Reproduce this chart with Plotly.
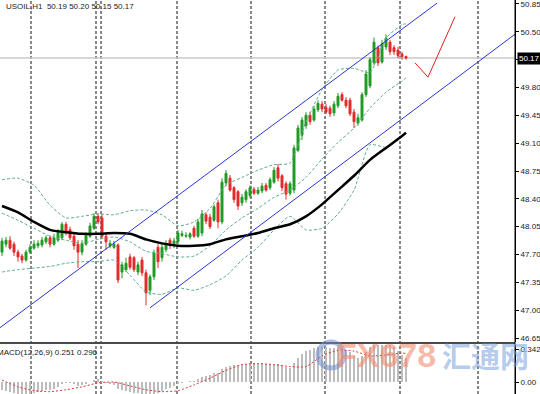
import plotly.graph_objects as go

# ---------------- data ----------------
bars = list(range(102))
opens = [47.73, 47.83, 47.88, 47.83, 47.73, 47.68, 47.63, 47.73, 47.78, 47.81,
         47.82, 47.86, 47.91, 47.83, 47.88, 47.91, 48.08, 48.01, 47.93, 47.83,
         47.73, 47.83, 47.93, 48.03, 48.18, 48.16, 47.93, 47.81, 47.79, 47.82,
         47.48, 47.51, 47.67, 47.66, 47.48, 47.63, 47.47, 47.25, 47.42, 47.79,
         47.66, 47.76, 47.88, 47.81, 47.86, 47.94, 47.93, 47.92, 48.03, 47.93,
         47.97, 48.20, 48.17, 48.13, 48.35, 48.11, 48.60, 48.66, 48.54, 48.49,
         48.35, 48.39, 48.44, 48.52, 48.47, 48.50, 48.57, 48.54, 48.61, 48.79,
         48.69, 48.59, 48.47, 48.51, 49.01, 49.20, 49.32, 49.45, 49.39, 49.52,
         49.59, 49.55, 49.54, 49.48, 49.57, 49.71, 49.64, 49.64, 49.49, 49.35,
         49.39, 49.71, 49.82, 50.11, 50.30, 50.12, 50.31, 50.37, 50.30, 50.27,
         50.22, 50.19]
highs = [47.91, 47.92, 47.93, 47.86, 47.76, 47.71, 47.76, 47.83, 47.88, 47.88,
         47.92, 47.94, 47.94, 47.96, 48.02, 48.11, 48.11, 48.05, 47.97, 47.88,
         47.88, 47.98, 48.10, 48.22, 48.22, 48.21, 47.96, 47.88, 47.87, 47.84,
         47.61, 47.66, 47.71, 47.68, 47.61, 47.67, 47.51, 47.45, 47.76, 47.83,
         47.83, 47.88, 47.91, 47.91, 48.01, 48.00, 47.98, 47.98, 48.06, 48.15,
         48.26, 48.23, 48.21, 48.33, 48.39, 48.66, 48.76, 48.70, 48.56, 48.51,
         48.46, 48.52, 48.57, 48.55, 48.55, 48.60, 48.60, 48.67, 48.80, 48.84,
         48.71, 48.62, 48.62, 49.08, 49.33, 49.43, 49.49, 49.49, 49.57, 49.64,
         49.63, 49.59, 49.57, 49.63, 49.73, 49.74, 49.68, 49.67, 49.53, 49.47,
         49.74, 50.02, 50.18, 50.43, 50.33, 50.40, 50.47, 50.40, 50.33, 50.31,
         50.25, 50.20]
lows = [47.68, 47.79, 47.76, 47.68, 47.61, 47.59, 47.61, 47.71, 47.76, 47.78,
        47.79, 47.83, 47.79, 47.81, 47.86, 47.88, 47.94, 47.88, 47.76, 47.53,
        47.69, 47.81, 47.91, 48.01, 48.08, 47.91, 47.76, 47.78, 47.77, 47.34,
        47.40, 47.48, 47.51, 47.48, 47.44, 47.43, 47.06, 47.19, 47.38, 47.53,
        47.61, 47.73, 47.77, 47.78, 47.83, 47.92, 47.91, 47.89, 47.91, 47.91,
        47.93, 48.08, 48.02, 48.11, 48.03, 48.08, 48.56, 48.49, 48.35, 48.26,
        48.31, 48.35, 48.41, 48.45, 48.45, 48.47, 48.49, 48.51, 48.59, 48.62,
        48.50, 48.39, 48.44, 48.47, 48.99, 49.14, 49.28, 49.33, 49.37, 49.49,
        49.49, 49.47, 49.43, 49.44, 49.54, 49.62, 49.54, 49.44, 49.29, 49.32,
        49.37, 49.68, 49.79, 50.08, 50.07, 50.10, 50.27, 50.21, 50.21, 50.17,
        50.15, 50.15]
closes = [47.87, 47.88, 47.78, 47.73, 47.67, 47.63, 47.73, 47.79, 47.83, 47.84,
          47.88, 47.91, 47.83, 47.91, 47.98, 48.08, 47.98, 47.91, 47.81, 47.73,
          47.84, 47.94, 48.06, 48.18, 48.11, 47.93, 47.86, 47.84, 47.83, 47.38,
          47.57, 47.59, 47.54, 47.51, 47.57, 47.47, 47.22, 47.42, 47.72, 47.61,
          47.79, 47.83, 47.81, 47.87, 47.97, 47.96, 47.94, 47.96, 47.93, 48.11,
          48.21, 48.12, 48.05, 48.30, 48.11, 48.61, 48.72, 48.51, 48.39, 48.31,
          48.42, 48.49, 48.54, 48.47, 48.51, 48.56, 48.51, 48.64, 48.76, 48.66,
          48.54, 48.46, 48.59, 49.04, 49.29, 49.39, 49.45, 49.37, 49.53, 49.60,
          49.53, 49.49, 49.47, 49.59, 49.69, 49.64, 49.57, 49.47, 49.37, 49.42,
          49.71, 49.97, 50.15, 50.37, 50.11, 50.35, 50.42, 50.25, 50.25, 50.20,
          50.19, 50.17]

band_bars = [0, 4, 8, 12, 16, 20, 24, 28, 32, 36, 40, 44, 48, 52, 56, 60, 64,
             68, 72, 76, 80, 84, 88, 92, 96, 100, 101]
bb_upper = [48.64, 48.66, 48.57, 48.32, 48.16, 48.18, 48.21, 48.20, 48.25, 48.26,
            48.20, 48.06, 48.11, 48.28, 48.57, 48.67, 48.76, 48.83, 48.85, 49.37,
            49.77, 50.02, 50.04, 49.99, 50.42, 50.59, 50.60]
bb_middle = [48.22, 48.13, 48.03, 47.93, 47.88, 47.84, 47.89, 47.92, 47.86, 47.74,
             47.71, 47.67, 47.68, 47.81, 48.01, 48.16, 48.28, 48.42, 48.51, 48.67,
             48.90, 49.11, 49.29, 49.54, 49.74, 49.88, 49.92]
bb_lower = [47.48, 47.51, 47.53, 47.55, 47.59, 47.61, 47.61, 47.63, 47.44, 47.23,
            47.20, 47.28, 47.25, 47.32, 47.43, 47.63, 47.79, 48.01, 48.18, 48.01,
            48.03, 48.21, 48.51, 49.08, 49.05, 49.18, 49.23]
ma_slow = [48.31, 48.23, 48.11, 48.01, 47.98, 47.96, 47.96, 47.97, 47.96, 47.89,
           47.84, 47.81, 47.81, 47.83, 47.89, 47.93, 47.97, 48.03, 48.08, 48.18,
           48.33, 48.51, 48.69, 48.89, 49.04, 49.19, 49.23]

macd_main = [-0.08, -0.09, -0.10, -0.11, -0.12, -0.13, -0.13, -0.12,
             -0.11, -0.10, -0.09, -0.08, -0.08, -0.07, -0.05, -0.02, -0.01,
             -0.01, -0.02, -0.04, -0.03, -0.02, 0.00,
             0.02, 0.03, 0.01, -0.01,
             -0.02, -0.03, -0.07, -0.08, -0.09, -0.10, -0.11, -0.11, -0.12,
             -0.15, -0.15, -0.12, -0.11, -0.09,
             -0.07, -0.06, -0.04, -0.02, -0.01, 0.00, 0.01, 0.01,
             0.03, 0.05, 0.06, 0.07, 0.09, 0.09, 0.13, 0.16,
             0.17, 0.18, 0.18, 0.19, 0.19, 0.20, 0.20, 0.20,
             0.20, 0.19, 0.19, 0.19, 0.19, 0.18, 0.16, 0.15,
             0.20, 0.25, 0.29, 0.32, 0.33, 0.35, 0.36, 0.36,
             0.36, 0.35, 0.35, 0.36, 0.35, 0.33, 0.31, 0.27,
             0.25, 0.27, 0.31, 0.36, 0.40, 0.40, 0.41, 0.41,
             0.39, 0.36, 0.32, 0.28, 0.251]
macd_signal = [0.02, -0.05, -0.09, -0.10, -0.08, -0.05, -0.01, 0.00, -0.04, -0.08,
               -0.10, -0.09, -0.03, 0.04, 0.12, 0.18, 0.19, 0.18, 0.16, 0.16,
               0.27, 0.33, 0.32, 0.27, 0.28, 0.30, 0.296]

channel_upper_bars = [-0.5, 108.75]
channel_upper_price = [46.78, 50.86]
channel_lower_bars = [37, 128.25]
channel_lower_price = [47.03, 50.47]
arrow_bars = [103.25, 106.5, 113.25]
arrow_price = [50.11, 49.93, 50.69]
grid_bars = [7.25, 23.5, 24.75, 43.75, 62.25, 80.75, 99.5, 119]

price_ticks = [46.65, 47.00, 47.35, 47.70, 48.05, 48.40, 48.75, 49.10, 49.45,
               49.80, 50.15, 50.50, 50.85]
price_ticktext = ["46.65", "47.00", "47.35", "47.70", "48.05", "48.40", "48.75",
                  "49.10", "49.45", "49.80", "", "50.50", "50.85"]
last_price = 50.17
macd_ticks = [0.342, 0.0]
macd_ticktext = ["0.342", "0.00"]

title_text = "USOIL,H1  50.19 50.20 50.15 50.17"
macd_text = "MACD(12,26,9) 0.251 0.296"

# ---------------- styles ----------------
GREEN = "#1f9a24"
RED = "#e42a2a"
BAND = "#5fae86"
FONT = "Liberation Sans"
W, H = 540, 394
PLOT_W = 515

fig = go.Figure()

# Bollinger bands
for band in (bb_upper, bb_middle, bb_lower):
    fig.add_trace(go.Scatter(x=band_bars, y=band, mode="lines",
                             line=dict(color=BAND, width=1, dash="3px,2px", shape="spline", smoothing=0.6),
                             hoverinfo="skip", showlegend=False, xaxis="x", yaxis="y"))

# slow moving average
fig.add_trace(go.Scatter(x=band_bars, y=ma_slow, mode="lines",
                         line=dict(color="#000000", width=2.5, shape="spline", smoothing=0.6),
                         hoverinfo="skip", showlegend=False, xaxis="x", yaxis="y"))

# channel lines
fig.add_trace(go.Scatter(x=channel_upper_bars, y=channel_upper_price, mode="lines",
                         line=dict(color="#2a35d8", width=1), showlegend=False,
                         hoverinfo="skip", xaxis="x", yaxis="y"))
fig.add_trace(go.Scatter(x=channel_lower_bars, y=channel_lower_price, mode="lines",
                         line=dict(color="#2a35d8", width=1), showlegend=False,
                         hoverinfo="skip", xaxis="x", yaxis="y"))

# candles
fig.add_trace(go.Candlestick(x=bars, open=opens, high=highs, low=lows, close=closes,
                             increasing=dict(line=dict(color=GREEN, width=1), fillcolor=GREEN),
                             decreasing=dict(line=dict(color=RED, width=1), fillcolor=RED),
                             whiskerwidth=0, showlegend=False, hoverinfo="skip",
                             xaxis="x", yaxis="y"))

# red projection arrow
fig.add_trace(go.Scatter(x=arrow_bars, y=arrow_price, mode="lines",
                         line=dict(color="#e02020", width=1), showlegend=False,
                         hoverinfo="skip", xaxis="x", yaxis="y"))

# MACD
fig.add_trace(go.Bar(x=bars, y=macd_main, marker=dict(color="#bdbdbd", line=dict(width=0)),
                     width=0.4, showlegend=False, hoverinfo="skip", xaxis="x2", yaxis="y2"))
fig.add_trace(go.Scatter(x=band_bars, y=macd_signal, mode="lines",
                         line=dict(color="#e03a3a", width=1, dash="2px,2px", shape="spline", smoothing=0.6),
                         showlegend=False, hoverinfo="skip", xaxis="x2", yaxis="y2"))

main_dom = [1 - 342 / H, 1]
macd_dom = [0, 1 - 345 / H]

axis_common = dict(showgrid=False, zeroline=False, showticklabels=False, ticks="",
                   showline=False, range=[-0.5, 128.25], fixedrange=True)
fig.update_layout(
    width=W, height=H,
    margin=dict(l=0, r=W - PLOT_W, t=0, b=0),
    paper_bgcolor="white", plot_bgcolor="white",
    font=dict(family=FONT, size=8, color="#222222"),
    showlegend=False,
    bargap=0,
    xaxis=dict(domain=[0, 1], anchor="y", rangeslider=dict(visible=False), **axis_common),
    xaxis2=dict(domain=[0, 1], anchor="y2", **axis_common),
    yaxis=dict(domain=main_dom, range=[46.60, 50.90], side="right", anchor="x",
               tickvals=price_ticks, ticktext=price_ticktext, ticks="outside", ticklen=3,
               tickcolor="#000", showline=True, linecolor="#000", linewidth=1,
               ticklabeloverflow="allow",
               showgrid=False, zeroline=False, tickfont=dict(size=8, color="#222")),
    yaxis2=dict(domain=macd_dom, range=[-0.1244, 0.3835], side="right", anchor="x2",
                tickvals=macd_ticks, ticktext=macd_ticktext, ticks="outside", ticklen=3,
                tickcolor="#000", showline=True, linecolor="#000", linewidth=1,
                ticklabeloverflow="allow",
                showgrid=False, zeroline=False, tickfont=dict(size=8, color="#222")),
)

shapes = []
# vertical dashed grid across both panes
for g in grid_bars:
    shapes.append(dict(type="line", xref="x", yref="paper", x0=g, x1=g, y0=0, y1=1,
                       line=dict(color="#111", width=1, dash="3px,2px"), layer="below"))
# current price line
shapes.append(dict(type="line", xref="paper", yref="y", x0=0, x1=1, y0=last_price, y1=last_price,
                   line=dict(color="#c8c8c8", width=1.5), layer="below"))
# pane separator
shapes.append(dict(type="line", xref="paper", yref="paper", x0=0, x1=1,
                   y0=1 - 343 / H, y1=1 - 343 / H, line=dict(color="#4a4a4a", width=2)))
# right axis line through separator
shapes.append(dict(type="line", xref="paper", yref="paper", x0=1, x1=1, y0=0, y1=1,
                   line=dict(color="#000", width=1)))
# watermark logo ring
shapes.append(dict(type="circle", xref="paper", yref="paper",
                   x0=318 / PLOT_W, x1=344 / PLOT_W, y0=1 - 368 / H, y1=1 - 342 / H,
                   line=dict(color="rgba(110,140,205,0.55)", width=5)))
fig.update_layout(shapes=shapes)

annotations = [
    dict(text=title_text, xref="paper", yref="paper", x=4 / PLOT_W, y=1 - 7 / H,
         xanchor="left", yanchor="middle", showarrow=False,
         font=dict(size=8, color="#222", family=FONT)),
    dict(text=macd_text, xref="paper", yref="paper", x=-5 / PLOT_W, y=1 - 352 / H,
         xanchor="left", yanchor="middle", showarrow=False,
         font=dict(size=8, color="#222", family=FONT)),
    dict(text=f"{last_price:.2f}", xref="paper", yref="y", x=1, y=last_price,
         xanchor="left", yanchor="middle", xshift=2, showarrow=False,
         bgcolor="#000", borderpad=1, font=dict(size=8, color="#fff", family=FONT)),
    dict(text="<b>FX678</b>", xref="paper", yref="paper", x=334 / PLOT_W, y=1 - 355 / H,
         xanchor="left", yanchor="middle", showarrow=False,
         font=dict(size=34, color="rgba(242,140,110,0.6)", family=FONT)),
    dict(text="<b>汇通网</b>", xref="paper", yref="paper", x=440 / PLOT_W, y=1 - 355 / H,
         xanchor="left", yanchor="middle", showarrow=False,
         font=dict(size=29, color="rgba(120,160,222,0.55)", family="Noto Sans CJK SC")),
]
fig.update_layout(annotations=annotations)

fig.write_html("out.html", config=dict(displayModeBar=False))
